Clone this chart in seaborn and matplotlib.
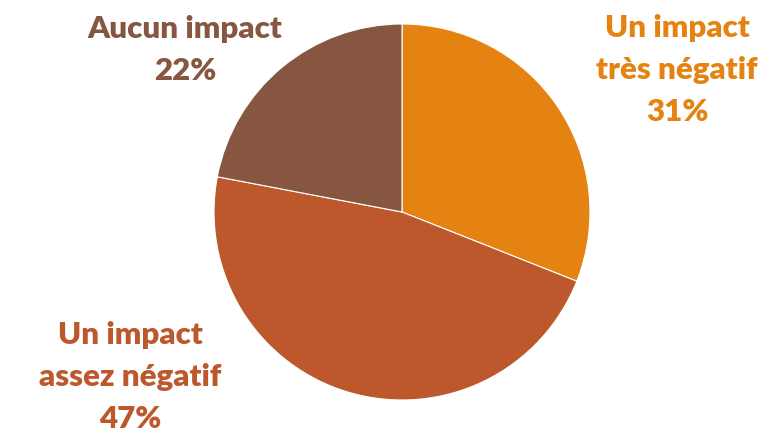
import matplotlib.pyplot as plt
import seaborn as sns

labels = ['Un impact\ntrès négatif', 'Un impact\nassez négatif', 'Aucun impact']
shares = [31, 47, 22]
colors = ['#E48312', '#BD582C', '#865640']
# label anchors, in pie radius units
label_pos = [(1.463, 0.755), (-1.447, -0.878), (-1.154, 0.862)]

sns.set_theme(style='white')
plt.rcParams['font.family'] = ['Lato', 'DejaVu Sans']

fig = plt.figure(figsize=(7.66, 4.33), dpi=100)
ax = fig.add_axes([0, 0, 1, 1])
ax.pie(shares, colors=colors, startangle=90, counterclock=False,
       radius=1, center=(0, 0),
       wedgeprops={'edgecolor': 'white', 'linewidth': 0.8})

for lab, val, col, (x, y) in zip(labels, shares, colors, label_pos):
    ax.text(x, y, '%s\n%d%%' % (lab, val), color=col, fontsize=22.5,
            fontweight='heavy', ha='center', va='center', linespacing=1.6)

ax.set_xlim(-402 / 188, (766 - 402) / 188)
ax.set_ylim(-(433 - 212) / 188, 212 / 188)
ax.set_aspect('auto')
ax.axis('off')
fig.savefig('out.png', dpi=100)
